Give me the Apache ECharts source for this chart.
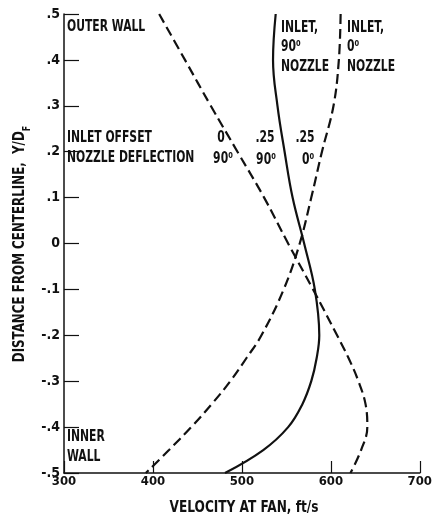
<!DOCTYPE html>
<html><head><meta charset="utf-8">
<script src="https://cdn.jsdelivr.net/npm/echarts@6/dist/echarts.min.js"></script>
<style>html,body{margin:0;padding:0;background:#fff}#c{width:435px;height:522px}</style>
</head><body><div id="c"></div>
<script>
// Distance from centerline, Y/D_F
const distance = [0.5, 0.4, 0.3, 0.2, 0.1, 0.0, -0.1, -0.2, -0.25, -0.3, -0.35, -0.4, -0.45, -0.5];
// Velocity at fan, ft/s
const velOffset0Nozzle90  = [407, 436, 465, 495, 525, 552, 580, 607, 620, 631, 639, 641, 634, 622];
const velOffset25Nozzle90 = [538, 535, 540, 548, 557, 570, 582, 587, 584, 578, 568, 552, 524, 481];
const velOffset25Nozzle0  = [611, 609, 603, 590, 578, 565, 547, 522, 505, 487, 466, 443, 418, 392];
const xTickValues = [300, 400, 500, 600, 700];
const yTickValues = [-0.5, -0.4, -0.3, -0.2, -0.1, 0, 0.1, 0.2, 0.3, 0.4, 0.5];

const FONT = "'DejaVu Sans Condensed', 'Liberation Sans Narrow', sans-serif";
const INK = '#111';

function pairs(vs) { return vs.map((v, i) => [v, distance[i]]); }
function yLabel(v) {
  const r = Math.round(v * 10) / 10;
  if (r === 0) return '0';
  return (r < 0 ? '-' : '') + Math.abs(r).toFixed(1).replace(/^0/, '');
}

const chart = echarts.init(document.getElementById('c'), null, {renderer: 'canvas'});
const txt = (x, y, text, extra) => ({
  type: 'text', x, y, scaleX: 0.8,
  style: Object.assign({text, fill: INK, font: `bold 15px ${FONT}`, textAlign: 'left', textVerticalAlign: 'middle'}, extra || {})
});

chart.setOption({
  animation: false,
  backgroundColor: '#fff',
  grid: {left: 64, right: 12, top: 14, bottom: 49, containLabel: false},
  xAxis: {
    type: 'value', min: xTickValues[0], max: xTickValues[xTickValues.length - 1], interval: 100,
    axisLine: {show: true, onZero: false, lineStyle: {color: INK, width: 1.5}},
    axisTick: {show: true, inside: true, length: 12, lineStyle: {color: INK, width: 1.2}},
    axisLabel: {color: INK, fontFamily: FONT, fontWeight: 'bold', fontSize: 13, margin: 2},
    splitLine: {show: false}
  },
  yAxis: {
    type: 'value', min: yTickValues[0], max: yTickValues[yTickValues.length - 1], interval: 0.1,
    axisLine: {show: true, onZero: false, lineStyle: {color: INK, width: 1.5}},
    axisTick: {show: true, inside: true, length: 15, lineStyle: {color: INK, width: 1.2}},
    axisLabel: {color: INK, fontFamily: FONT, fontWeight: 'bold', fontSize: 14, margin: 4, formatter: yLabel},
    splitLine: {show: false}
  },
  series: [
    {type: 'line', name: 'offset 0, 90 deg', data: pairs(velOffset0Nozzle90), smooth: 0.4, showSymbol: false,
     lineStyle: {color: INK, width: 2.2, type: [10, 5]}},
    {type: 'line', name: 'offset .25, 90 deg', data: pairs(velOffset25Nozzle90), smooth: 0.4, showSymbol: false,
     lineStyle: {color: INK, width: 2.2}},
    {type: 'line', name: 'offset .25, 0 deg', data: pairs(velOffset25Nozzle0), smooth: 0.4, showSymbol: false,
     lineStyle: {color: INK, width: 2.2, type: [10, 5]}}
  ],
  graphic: [
    txt(67, 27, 'OUTER WALL'),
    txt(67, 138, 'INLET OFFSET'),
    txt(67, 158, 'NOZZLE DEFLECTION'),
    txt(221, 138, '0', {textAlign: 'center'}),
    txt(223, 159, '90⁰', {textAlign: 'center'}),
    txt(265, 138, '.25', {textAlign: 'center'}),
    txt(266, 160, '90⁰', {textAlign: 'center'}),
    txt(305, 138, '.25', {textAlign: 'center'}),
    txt(308, 160, '0⁰', {textAlign: 'center'}),
    txt(281, 28, 'INLET,'),
    txt(281, 47, '90⁰'),
    txt(281, 67, 'NOZZLE'),
    txt(347, 28, 'INLET,'),
    txt(347, 47, '0⁰'),
    txt(347, 67, 'NOZZLE'),
    txt(67, 437, 'INNER'),
    txt(67, 457, 'WALL'),
    {type: 'text', x: 244, y: 508, scaleX: 0.9,
     style: {text: 'VELOCITY AT FAN, ft/s', fill: INK, font: `bold 15px ${FONT}`, textAlign: 'center', textVerticalAlign: 'middle'}},
    {type: 'text', x: 20, y: 244, rotation: Math.PI / 2, scaleX: 0.88,
     style: {text: 'DISTANCE FROM CENTERLINE,  Y/D{s|F}', fill: INK, font: `bold 15px ${FONT}`,
       textAlign: 'center', textVerticalAlign: 'middle',
       rich: {s: {fontSize: 10, fontWeight: 'bold', fontFamily: FONT, fill: INK, verticalAlign: 'bottom', lineHeight: 24}}}}
  ]
});
</script></body></html>
